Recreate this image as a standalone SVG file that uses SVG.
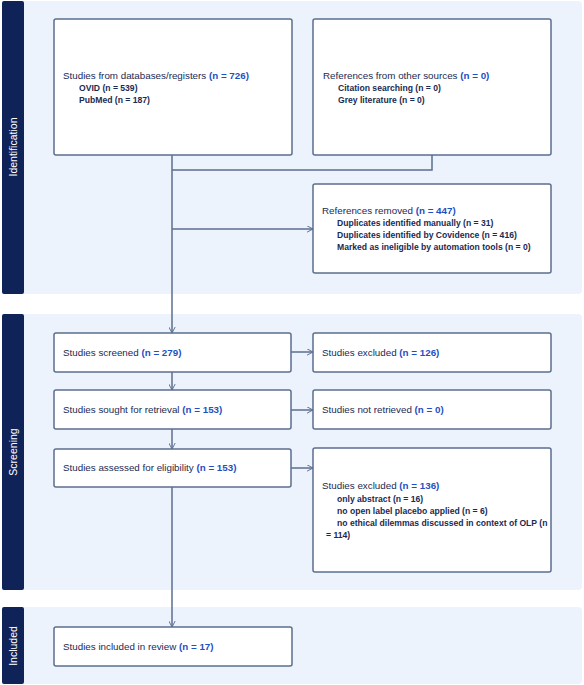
<svg xmlns="http://www.w3.org/2000/svg" width="584" height="685" viewBox="0 0 584 685">
<defs>
<marker id="arr" viewBox="0 0 10 10" refX="9.5" refY="5" markerWidth="7" markerHeight="7" markerUnits="userSpaceOnUse" orient="auto">
<polyline points="1,0.5 9.5,5 1,9.5" fill="none" stroke="#5b6f8f" stroke-width="1.4"/>
</marker>
<style>
.panel{fill:#edf3fd}
.side{fill:#0f2359}
.box{fill:#ffffff;stroke:#5b6f8f;stroke-width:1.5}
.t{font-family:"Liberation Sans",Arial,sans-serif;font-size:9.8px;fill:#1b2a52}
.s{font-family:"Liberation Sans",Arial,sans-serif;font-size:8.6px;fill:#1b2a52;font-weight:bold}
.n{fill:#1f4fc4;font-weight:bold}
.lab{font-family:"Liberation Sans",Arial,sans-serif;font-size:10.5px;fill:#ffffff;text-anchor:middle}
.c{fill:none;stroke:#5b6f8f;stroke-width:1.5}
</style>
</defs>
<rect width="584" height="685" fill="#ffffff"/>
<g id="phase-identification">
<rect class="panel" x="2" y="1" width="580" height="293" rx="4"/>
<rect class="side" x="2" y="1" width="22" height="293" rx="2"/>
<text class="lab" transform="translate(16.5,147) rotate(-90)">Identification</text>
</g>
<g id="phase-screening">
<rect class="panel" x="2" y="314" width="580" height="276" rx="4"/>
<rect class="side" x="2" y="314" width="22" height="276" rx="2"/>
<text class="lab" transform="translate(16.5,452) rotate(-90)">Screening</text>
</g>
<g id="phase-included">
<rect class="panel" x="2" y="607" width="580" height="77" rx="4"/>
<rect class="side" x="2" y="607" width="22" height="77" rx="2"/>
<text class="lab" transform="translate(16.5,646) rotate(-90)">Included</text>
</g>
<g id="connectors">
<path class="c" d="M172,155 V333" marker-end="url(#arr)"/>
<path class="c" d="M172,170 H432 V155"/>
<path class="c" d="M172,229 H313" marker-end="url(#arr)"/>
<path class="c" d="M291,352 H313" marker-end="url(#arr)"/>
<path class="c" d="M291,410 H313" marker-end="url(#arr)"/>
<path class="c" d="M291,468 H313" marker-end="url(#arr)"/>
<path class="c" d="M172,372 V390" marker-end="url(#arr)"/>
<path class="c" d="M172,429 V449" marker-end="url(#arr)"/>
<path class="c" d="M172,487 V627" marker-end="url(#arr)"/>
</g>
<g id="databases">
<rect class="box" x="54" y="19" width="238" height="136" rx="2"/>
<text class="t" x="63" y="79">Studies from databases/registers <tspan class="n">(n = 726)</tspan></text>
<text class="s" x="79" y="91">OVID (n = 539)</text>
<text class="s" x="79" y="103">PubMed (n = 187)</text>
</g>
<g id="other-sources">
<rect class="box" x="313" y="19" width="238" height="136" rx="2"/>
<text class="t" x="323" y="79">References from other sources <tspan class="n">(n = 0)</tspan></text>
<text class="s" x="338" y="91">Citation searching (n = 0)</text>
<text class="s" x="338" y="103">Grey literature (n = 0)</text>
</g>
<g id="removed">
<rect class="box" x="313" y="184" width="238" height="89" rx="2"/>
<text class="t" x="322" y="214">References removed <tspan class="n">(n = 447)</tspan></text>
<text class="s" x="337" y="226">Duplicates identified manually (n = 31)</text>
<text class="s" x="337" y="238">Duplicates identified by Covidence (n = 416)</text>
<text class="s" x="337" y="250">Marked as ineligible by automation tools (n = 0)</text>
</g>
<g id="screened">
<rect class="box" x="54" y="333" width="237" height="39" rx="2"/>
<text class="t" x="63" y="356">Studies screened <tspan class="n">(n = 279)</tspan></text>
</g>
<g id="excluded-1">
<rect class="box" x="313" y="333" width="238" height="39" rx="2"/>
<text class="t" x="322" y="356">Studies excluded <tspan class="n">(n = 126)</tspan></text>
</g>
<g id="sought">
<rect class="box" x="54" y="390" width="237" height="39" rx="2"/>
<text class="t" x="63" y="413">Studies sought for retrieval <tspan class="n">(n = 153)</tspan></text>
</g>
<g id="not-retrieved">
<rect class="box" x="313" y="390" width="238" height="39" rx="2"/>
<text class="t" x="322" y="413">Studies not retrieved <tspan class="n">(n = 0)</tspan></text>
</g>
<g id="assessed">
<rect class="box" x="54" y="449" width="237" height="38" rx="2"/>
<text class="t" x="63" y="471">Studies assessed for eligibility <tspan class="n">(n = 153)</tspan></text>
</g>
<g id="excluded-2">
<rect class="box" x="313" y="448" width="238" height="124" rx="2"/>
<text class="t" x="322" y="489">Studies excluded <tspan class="n">(n = 136)</tspan></text>
<text class="s" x="337" y="502">only abstract (n = 16)</text>
<text class="s" x="337" y="514">no open label placebo applied (n = 6)</text>
<text class="s" x="337" y="526">no ethical dilemmas discussed in context of OLP (n</text>
<text class="s" x="326" y="538">= 114)</text>
</g>
<g id="included">
<rect class="box" x="54" y="627" width="238" height="39" rx="2"/>
<text class="t" x="63" y="650">Studies included in review <tspan class="n">(n = 17)</tspan></text>
</g>
</svg>
